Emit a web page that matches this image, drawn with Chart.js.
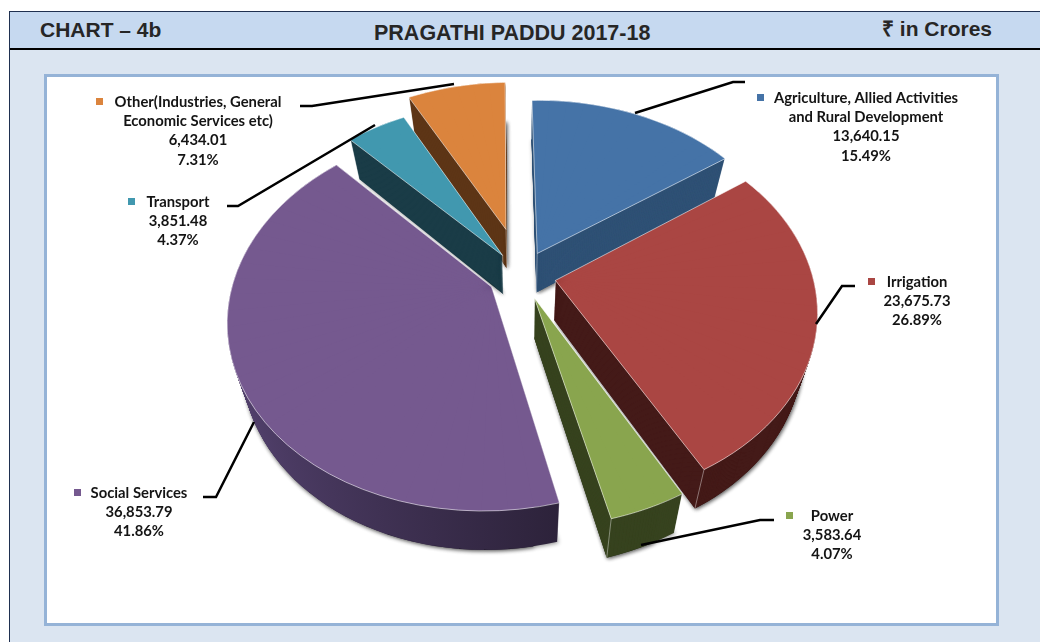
<!DOCTYPE html>
<html>
<head>
<meta charset="utf-8">
<title>Pragathi Paddu 2017-18</title>
<script src="https://cdn.jsdelivr.net/npm/chart.js@4"></script>
<style>
  html, body { margin: 0; padding: 0; background: #fff; }
  body { width: 1040px; height: 642px; position: relative; overflow: hidden; }
  #frame { position: absolute; left: 9px; top: 11px; width: 1031px; height: 631px; box-sizing: border-box;
           background: #dbe5f1; border-left: 1px solid #1f3050; border-top: 1px solid #1f3050; }
  #head { position: absolute; left: 10px; top: 12px; width: 1030px; height: 38px; box-sizing: border-box;
          background: #c6d9f0; border-bottom: 2px solid #000; }
  #box { position: absolute; left: 44px; top: 74px; width: 955px; height: 552px; box-sizing: border-box;
         background: #fff; border: 3px solid #95b3d7; }
  .h { position: absolute; white-space: nowrap; font: bold 21px "Liberation Sans", Arial, sans-serif; color: #262626; line-height: 24px; }
  canvas { position: absolute; left: 0; top: 0; }
</style>
</head>
<body>
<div id="frame"></div>
<div id="head"></div>
<div id="box"></div>
<div class="h" style="left:40px;top:18px">CHART – 4b</div>
<div class="h" style="left:374px;top:21px;font-size:21.5px">PRAGATHI PADDU 2017-18</div>
<div class="h" style="left:882px;top:17px">₹ in Crores</div>
<canvas id="myChart" width="1040" height="642"></canvas>
<script>
var categories = ["Agriculture, Allied Activities and Rural Development", "Irrigation", "Power",
                  "Social Services", "Transport", "Other(Industries, General Economic Services etc)"];
var values = [13640.15, 23675.73, 3583.64, 36853.79, 3851.48, 6434.01];
var topColors = ["#4573a7", "#aa4643", "#89a54e", "#75598f", "#4198af", "#db843d"];
var wallColors = ["#2f5175", "#441a18", "#37431f", ["#54426f", "#2b2138"], "#1a3c47", "#5d3516"];
var explode = [0.133, 0.133, 0.133, 0.133, 0.133, 0.266];
var drawOrder = [5, 4, 0, 1, 2, 3];

// label blocks: wrapped name lines, text centre, first line y, marker, leader line
var labelLines = [
  ["Agriculture, Allied Activities", "and Rural Development"],
  ["Irrigation"], ["Power"], ["Social Services"], ["Transport"],
  ["Other(Industries, General", "Economic Services etc)"]
];
var labelX = [866, 917, 832, 139, 178, 198];
var labelY = [98, 282, 516, 493, 202, 102];
var markerX = [760, 871, 789, 77, 131, 99];
var leaders = [
  [[635, 113], [733, 82], [745, 82]],
  [[816, 324], [842, 286], [855, 286]],
  [[641, 545], [760, 520], [774, 520]],
  [[254, 422], [216, 497], [203, 497]],
  [[375, 125], [238, 206], [227, 206]],
  [[454, 84], [312, 106], [300, 106]]
];

var cam = { cx: 522, cy: 275, f: 257, g: 184, p: 0.16, shear: -2.5, depth: 39, taper: 0.05 };

function project(u, v, t) {
  var w = 1 - cam.p * v;
  var x = cam.cx + cam.f * u / w + cam.shear * v;
  var y = cam.cy + cam.g * v / w;
  return { x: cam.cx + (x - cam.cx) * (1 - cam.taper * t / cam.depth), y: y + t };
}

// draws part of an arc so that apex and both arc ends land on their projected points
function drawPiece(ctx, arc, ex, a0, a1, t, color) {
  var R = arc.outerRadius;
  var c0 = Math.cos(a0), s0 = Math.sin(a0), c1 = Math.cos(a1), s1 = Math.sin(a1);
  var q0 = project(ex[0], ex[1], t);
  var q1 = project(ex[0] + c0, ex[1] + s0, t);
  var q2 = project(ex[0] + c1, ex[1] + s1, t);
  var det = c0 * s1 - c1 * s0;
  var ax = q1.x - q0.x, ay = q1.y - q0.y, bx = q2.x - q0.x, by = q2.y - q0.y;
  var m00 = (ax * s1 - bx * s0) / det / R, m01 = (bx * c0 - ax * c1) / det / R;
  var m10 = (ay * s1 - by * s0) / det / R, m11 = (by * c0 - ay * c1) / det / R;
  ctx.setTransform(m00, m10, m01, m11,
    q0.x - m00 * arc.x - m01 * arc.y, q0.y - m10 * arc.x - m11 * arc.y);
  var piece = Object.create(arc);
  piece.options = Object.assign({}, arc.options, { backgroundColor: color, borderWidth: 0 });
  piece.startAngle = a0;
  piece.endAngle = a1;
  piece.circumference = a1 - a0;
  piece.draw(ctx);
}

function drawFace(ctx, arc, ex, t, color) {
  var step = 5 * Math.PI / 180;
  var n = Math.max(1, Math.ceil((arc.endAngle - arc.startAngle) / step));
  var da = (arc.endAngle - arc.startAngle) / n;
  for (var i = 0; i < n; i++) {
    var a0 = arc.startAngle + i * da;
    // each piece runs over the next one, so no seam shows near the apex
    var a1 = Math.min(arc.endAngle, a0 + 2 * da);
    drawPiece(ctx, arc, ex, a0, a1, t, color);
  }
}

function edgeLine(ctx, points, alpha) {
  ctx.setTransform(1, 0, 0, 1, 0, 0);
  ctx.strokeStyle = "rgba(255,255,255," + alpha + ")";
  ctx.lineWidth = 1;
  ctx.beginPath();
  points.forEach(function (p, i) { i ? ctx.lineTo(p.x, p.y) : ctx.moveTo(p.x, p.y); });
  ctx.stroke();
}

var pie3d = {
  id: "pie3d",
  beforeDatasetsDraw: function (chart) {
    var ctx = chart.ctx;
    var arcs = chart.getDatasetMeta(0).data;
    ctx.save();
    drawOrder.forEach(function (i) {
      var arc = arcs[i];
      var mid = (arc.startAngle + arc.endAngle) / 2;
      var ex = [explode[i] * Math.cos(mid), explode[i] * Math.sin(mid)];
      var wall = wallColors[i];
      if (Array.isArray(wall)) {
        var g = ctx.createLinearGradient(arc.x - arc.outerRadius, 0, arc.x + arc.outerRadius * 0.3, 0);
        g.addColorStop(0, wall[0]);
        g.addColorStop(1, wall[1]);
        wall = g;
      }
      // soft shadow under the lowest layer
      ctx.shadowColor = "rgba(0,0,0,0.45)";
      ctx.shadowBlur = 4;
      ctx.shadowOffsetX = 1;
      ctx.shadowOffsetY = 1;
      drawFace(ctx, arc, ex, cam.depth, wall);
      ctx.shadowColor = "transparent";
      for (var t = cam.depth - 1; t > 0; t--) drawFace(ctx, arc, ex, t, wall);

      var ends = [[ex[0], ex[1]],
        [ex[0] + Math.cos(arc.startAngle), ex[1] + Math.sin(arc.startAngle)],
        [ex[0] + Math.cos(arc.endAngle), ex[1] + Math.sin(arc.endAngle)]];
      ends.forEach(function (e) {
        edgeLine(ctx, [project(e[0], e[1], 0), project(e[0], e[1], cam.depth)], 0.4);
      });

      drawFace(ctx, arc, ex, 0, topColors[i]);

      var rim = [project(ex[0], ex[1], 0)];
      for (var k = 0; k <= 40; k++) {
        var a = arc.startAngle + (arc.endAngle - arc.startAngle) * k / 40;
        rim.push(project(ex[0] + Math.cos(a), ex[1] + Math.sin(a), 0));
      }
      rim.push(rim[0]);
      edgeLine(ctx, rim, 0.55);
    });
    ctx.restore();
    return false;
  },
  afterDraw: function (chart) {
    var ctx = chart.ctx;
    var total = values.reduce(function (a, b) { return a + b; }, 0);
    ctx.save();
    ctx.setTransform(1, 0, 0, 1, 0, 0);
    ctx.strokeStyle = "#000";
    ctx.lineWidth = 2.5;
    leaders.forEach(function (l) {
      ctx.beginPath();
      l.forEach(function (p, i) { i ? ctx.lineTo(p[0], p[1]) : ctx.moveTo(p[0], p[1]); });
      ctx.stroke();
    });
    ctx.font = "bold 14.8px Lato, 'Open Sans', sans-serif";
    ctx.textAlign = "center";
    ctx.textBaseline = "middle";
    values.forEach(function (v, i) {
      ctx.fillStyle = topColors[i];
      ctx.fillRect(markerX[i] - 3, labelY[i] - 4, 7, 7);
      ctx.fillStyle = "#141414";
      var lines = labelLines[i].concat([
        v.toLocaleString("en-US", { minimumFractionDigits: 2 }),
        (v / total * 100).toFixed(2) + "%"
      ]);
      lines.forEach(function (s, k) { ctx.fillText(s, labelX[i], labelY[i] + k * 19.3); });
    });
    ctx.restore();
  }
};

new Chart(document.getElementById("myChart"), {
  type: "pie",
  data: {
    labels: categories,
    datasets: [{ data: values, backgroundColor: topColors, borderWidth: 0 }]
  },
  options: {
    responsive: false,
    animation: false,
    rotation: -1.5,
    plugins: { legend: { display: false }, tooltip: { enabled: false } }
  },
  plugins: [pie3d]
});
</script>
</body>
</html>
